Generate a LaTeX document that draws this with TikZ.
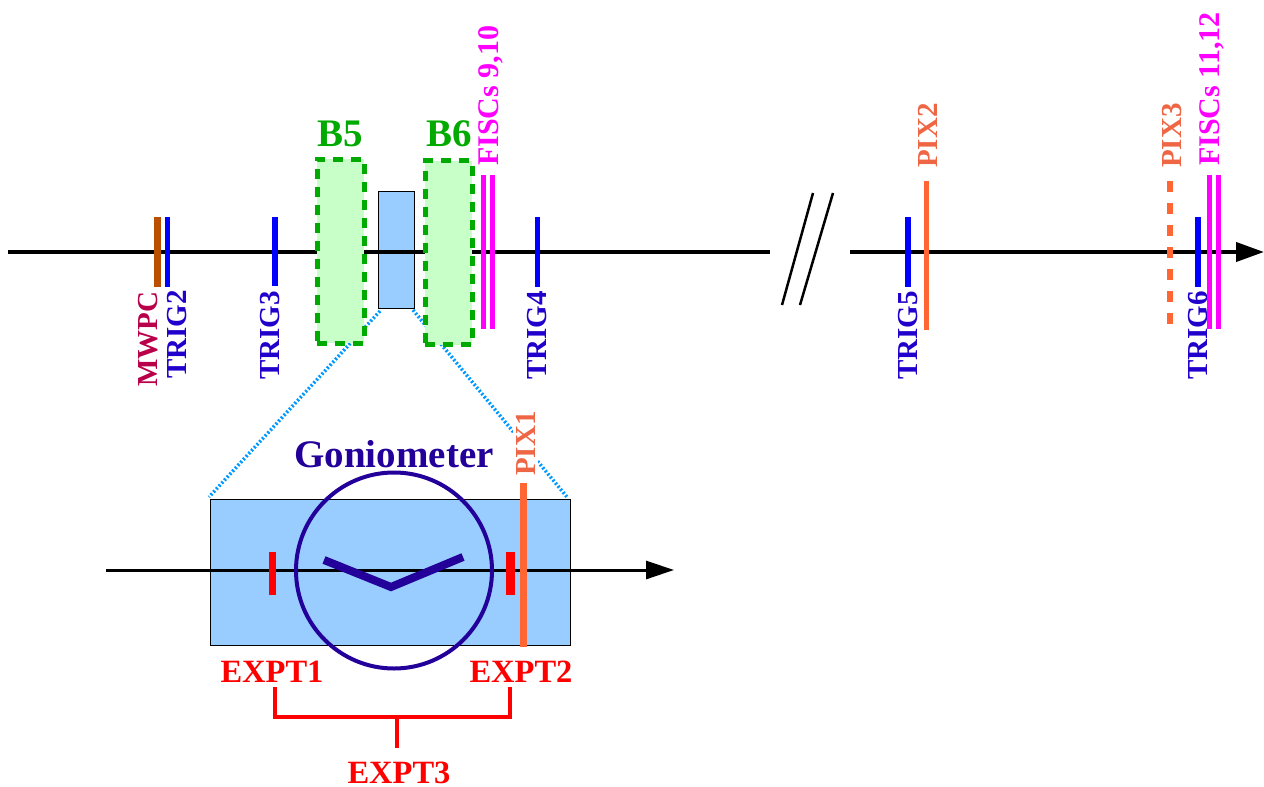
\documentclass[tikz,border=0pt]{standalone}
\usepackage{fontspec}
\setmainfont{Liberation Serif}
\usetikzlibrary{arrows.meta}
\definecolor{cblue}{HTML}{0000FF}
\definecolor{ctrig}{HTML}{2200CC}
\definecolor{cbrown}{HTML}{B85000}
\definecolor{cmwpc}{HTML}{B8004A}
\definecolor{cgreen}{HTML}{00AA00}
\definecolor{cpale}{HTML}{C8FFC8}
\definecolor{csky}{HTML}{99CCFF}
\definecolor{cdot}{HTML}{0099FF}
\definecolor{cmag}{HTML}{FF00FF}
\definecolor{corange}{HTML}{FF6633}
\definecolor{cpix}{HTML}{EE6644}
\definecolor{cgonio}{HTML}{220099}
\definecolor{cred}{HTML}{FF0000}
\tikzset{
  lbl/.style={font=\fontsize{29}{29}\selectfont\bfseries, inner sep=0pt},
  biglbl/.style={lbl, font=\fontsize{39}{39}\selectfont\bfseries, anchor=base},
  exptlbl/.style={lbl, font=\fontsize{32.5}{32.5}\selectfont\bfseries, text=cred, anchor=base},
  vlbl/.style={lbl, rotate=90, anchor=base west},
  fisclbl/.style={vlbl, font=\fontsize{30}{30}\selectfont\bfseries, text=cmag},
  magnet/.style={draw=cgreen, fill=cpale, line width=5pt, dash pattern=on 10pt off 8pt, minimum width=47pt, minimum height=184pt, inner sep=0pt},
  chamber/.style={draw=black, fill=csky, line width=1pt, inner sep=0pt},
  beam/.style={draw=black, line width=4pt},
  dotline/.style={draw=cdot, line width=3.5pt, dash pattern=on 2pt off 2pt},
  slashline/.style={draw=black, line width=2.5pt},
  trigbar/.style={draw=cblue, line width=6pt},
  fiscbar/.style={draw=cmag, line width=5pt},
  pixbar/.style={draw=corange, line width=5.5pt},
  exptbar/.style={draw=cred},
  bracket/.style={draw=cred, line width=3.5pt}
}
\begin{document}
\begin{tikzpicture}[x=1pt,y=-1pt]
\useasboundingbox (0,0) rectangle (1264,787);
% coordinates for the beam lines
\coordinate (beamA) at (8,252);
\coordinate (beamB) at (770,252);
\coordinate (beamC) at (850,252);
\coordinate (beamD) at (1264,252);
\coordinate (lowA) at (106,570);
\coordinate (lowB) at (674,570);
\coordinate (dotL1) at (380,311);
\coordinate (dotL2) at (209,497);
\coordinate (dotR1) at (413,310);
\coordinate (dotR2) at (567,497);
% chambers
\node[chamber, minimum width=36pt, minimum height=117pt] (chamberS) at (396,249.5) {};
\node[chamber, minimum width=360pt, minimum height=146pt] (chamberL) at (390,572) {};
% zoom lines
\draw[dotline] (dotL1) -- (dotL2);
\draw[dotline] (dotR1) -- (dotR2);
% beam
\draw[beam] (beamA) -- (beamB);
\draw[beam, -{Triangle[length=28pt,width=19pt]}] (beamC) -- (beamD);
% magnets
\node[magnet] (B5box) at (340.5,251) {};
\node[magnet] (B6box) at (448.5,252.5) {};
\node[biglbl, text=cgreen] (B5) at (340.5,146) {B5};
\node[biglbl, text=cgreen] (B6) at (449,146) {B6};
% break marks
\draw[slashline] (782,305) -- (813,193);
\draw[slashline] (800,305) -- (833,193);
% labels
\node[vlbl, text=cmwpc] (MWPC) at (157,387) {MWPC};
\node[vlbl, text=ctrig] (TRIG2) at (186,379) {TRIG2};
\node[vlbl, text=ctrig] (TRIG3) at (279.5,380) {TRIG3};
\node[vlbl, text=ctrig] (TRIG4) at (546.5,380) {TRIG4};
\node[vlbl, text=ctrig] (TRIG5) at (917,380) {TRIG5};
\node[vlbl, text=ctrig] (TRIG6) at (1207,380) {TRIG6};
\node[fisclbl] (F910) at (498.5,166) {FISCs 9,10};
\node[fisclbl] (F1112) at (1219.5,166) {FISCs 11,12};
\node[vlbl, text=cpix] (PIX2) at (937.5,168) {PIX2};
\node[vlbl, text=cpix] (PIX3) at (1181.5,168) {PIX3};
% detector bars
\draw[draw=cbrown, line width=7pt] (157.5,217) -- (157.5,287);
\draw[trigbar, line width=5pt] (167.5,217) -- (167.5,287);
\draw[trigbar] (275,217) -- (275,286);
\draw[trigbar, line width=5pt] (537.5,217) -- (537.5,287);
\draw[trigbar] (908,217) -- (908,287);
\draw[trigbar] (1198,217) -- (1198,287);
\draw[fiscbar] (483.5,175) -- (483.5,329);
\draw[fiscbar] (492.5,175) -- (492.5,329);
\draw[fiscbar] (1209.5,175) -- (1209.5,329);
\draw[fiscbar] (1218.5,175) -- (1218.5,329);
\draw[pixbar] (926.5,181) -- (926.5,330);
\draw[pixbar, line width=6pt, dash pattern=on 11pt off 11pt] (1170,181) -- (1170,325);
% detail
\draw[black, line width=3pt, -{Triangle[length=28pt,width=18pt]}] (lowA) -- (lowB);
\node[draw=cgonio, line width=4pt, circle, minimum size=196pt, inner sep=0pt] (gonio) at (394,570.5) {};
\coordinate (vL) at (324,560);
\coordinate (vM) at (391,587);
\coordinate (vR) at (463,557);
\draw[cgonio, line width=8pt] (vL) -- (vM) -- (vR);
\node[biglbl, text=cgonio] (goniolbl) at (394,467) {Goniometer};
\draw[exptbar, line width=7pt] (272.5,552) -- (272.5,595);
\draw[exptbar, line width=9pt] (510.5,552) -- (510.5,595);
\draw[pixbar, line width=7pt] (523,483) -- (523,647);
\node[vlbl, text=cpix, fill=white, inner sep=3pt] (PIX1) at (535,479) {PIX1};
% experiment labels
\node[exptlbl] (EXPT1) at (272,682) {EXPT1};
\node[exptlbl] (EXPT2) at (521,682) {EXPT2};
\node[exptlbl] (EXPT3) at (399,783) {EXPT3};
\coordinate (brL) at (275,687);
\coordinate (brR) at (510,687);
\coordinate (brM) at (397,717);
\coordinate (brS) at (397,748);
\draw[bracket] (brL) |- (brM) -| (brR);
\draw[bracket] (brM) -- (brS);
\end{tikzpicture}
\end{document}
